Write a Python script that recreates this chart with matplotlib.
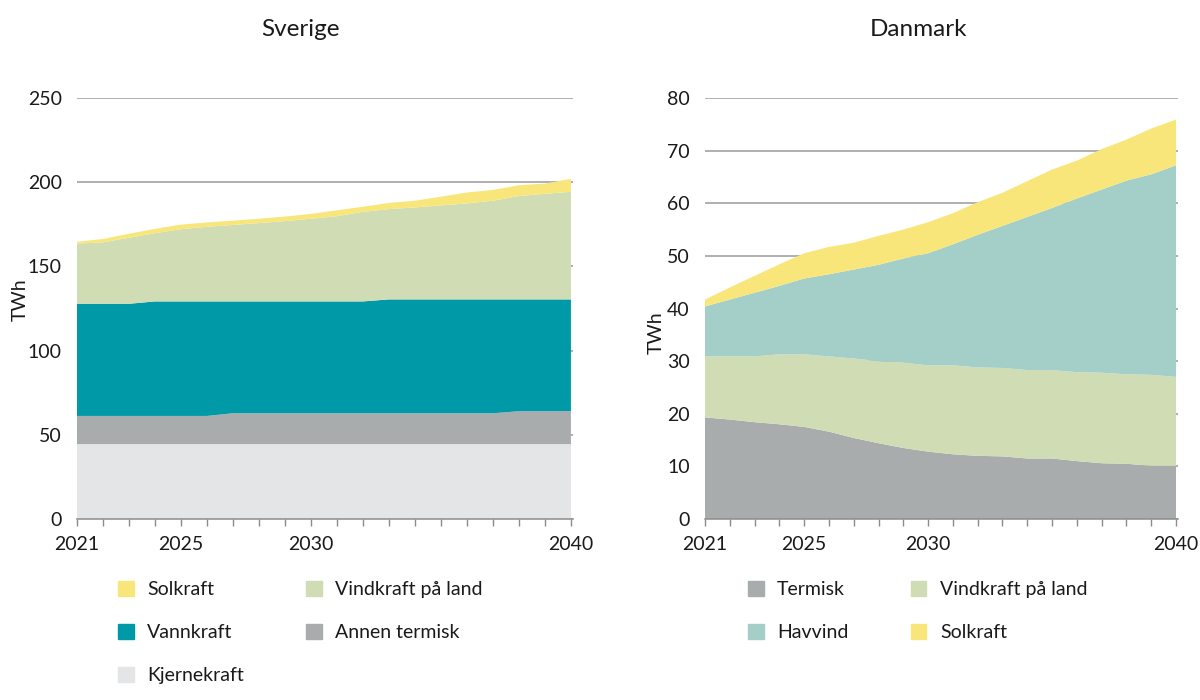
import matplotlib.pyplot as plt
from matplotlib.patches import Patch

plt.rcParams['font.family'] = ['Lato', 'DejaVu Sans']

years = list(range(2021, 2041))
label_years = [2021, 2025, 2030, 2040]

# Sverige (TWh)
se_kjernekraft = [44.5] * 20
se_annen_termisk = [16.7] * 6 + [18.3] * 11 + [19.5] * 3
se_vannkraft = [66.6, 66.6, 66.6, 68.0, 68.0, 68.0, 66.4, 66.4, 66.4, 66.4,
                66.4, 66.4, 67.6, 67.6, 67.6, 67.6, 67.6, 66.4, 66.4, 66.4]
se_vind_land = [35.7, 36.5, 39.2, 40.5, 42.9, 44.3, 45.4, 46.5, 47.7, 49.1,
                50.6, 53.2, 53.6, 54.6, 55.8, 57.0, 58.6, 61.4, 62.7, 63.9]
se_solkraft = [1.1, 2.0, 2.4, 2.6, 2.7, 2.6, 2.6, 2.6, 2.7, 2.9,
               3.5, 3.0, 3.7, 4.0, 5.2, 6.5, 6.4, 6.4, 6.1, 7.7]

# Danmark (TWh)
dk_termisk = [19.3, 18.9, 18.4, 18.0, 17.5, 16.6, 15.4, 14.4, 13.5, 12.8,
              12.3, 12.0, 11.9, 11.5, 11.5, 11.0, 10.6, 10.5, 10.1, 10.1]
dk_vind_land = [11.6, 12.0, 12.5, 13.3, 13.8, 14.3, 15.1, 15.6, 16.2, 16.4,
                16.9, 16.8, 16.8, 16.8, 16.8, 16.9, 17.2, 17.0, 17.3, 16.9]
dk_havvind = [9.5, 10.8, 12.1, 13.0, 14.4, 15.6, 16.9, 18.3, 19.8, 21.3,
              23.0, 25.2, 27.0, 29.1, 30.8, 33.0, 34.8, 36.8, 38.1, 40.2]
dk_solkraft = [1.3, 2.3, 3.2, 4.1, 4.8, 5.2, 5.1, 5.5, 5.5, 5.9,
               5.9, 6.2, 6.3, 6.8, 7.3, 7.2, 7.7, 7.8, 8.7, 8.7]

# colours
c_sol = '#f9e67b'
c_vind = '#cfdcb4'
c_vann = '#0099a8'
c_termisk = '#a9acac'
c_kjerne = '#e4e5e7'
c_hav = '#a4cfc9'
grid_col = '#9a9a9a'
text_col = '#1a1a1a'

fig = plt.figure(figsize=(12, 7), dpi=100)
ax1 = fig.add_axes([77 / 1200, 181 / 700, 496 / 1200, 421 / 700])
ax2 = fig.add_axes([705 / 1200, 181 / 700, 473 / 1200, 421 / 700])


def style(ax, ymax, step):
    ax.set_xlim(2021, 2040.08)
    ax.set_ylim(0, ymax)
    ax.set_yticks(range(0, ymax + 1, step))
    ax.set_xticks(years)
    ax.set_xticklabels([str(y) if y in label_years else '' for y in years])
    ax.grid(axis='y', color=grid_col, linewidth=1.1)
    ax.set_axisbelow(True)
    for s in ['top', 'right', 'left']:
        ax.spines[s].set_visible(False)
    ax.spines['bottom'].set_color('#8c8c8c')
    ax.spines['bottom'].set_linewidth(1.1)
    ax.spines['bottom'].set_zorder(5)
    ax.tick_params(axis='y', length=0, pad=11, labelsize=14, labelcolor=text_col)
    ax.tick_params(axis='x', length=5, width=1, color='#8c8c8c', pad=7,
                   labelsize=14, labelcolor=text_col)


ax1.stackplot(years, se_kjernekraft, se_annen_termisk, se_vannkraft, se_vind_land, se_solkraft,
              colors=[c_kjerne, c_termisk, c_vann, c_vind, c_sol], linewidth=0, zorder=2)
style(ax1, 250, 50)

ax2.stackplot(years, dk_termisk, dk_vind_land, dk_havvind, dk_solkraft,
              colors=[c_termisk, c_vind, c_hav, c_sol], linewidth=0, zorder=2)
style(ax2, 80, 10)

# titles and axis labels
fig.text(300 / 1200, 1 - 29 / 700, 'Sverige', ha='center', va='center', fontsize=17.5, color=text_col)
fig.text(919 / 1200, 1 - 29 / 700, 'Danmark', ha='center', va='center', fontsize=17.5, color=text_col)
fig.text(20 / 1200, 1 - 300 / 700, 'TWh', rotation=90, ha='center', va='center', fontsize=14, color=text_col)
fig.text(656 / 1200, 1 - 333 / 700, 'TWh', rotation=90, ha='center', va='center', fontsize=14, color=text_col)

# legends (column-wise order so rows read like the original)
se_handles = [Patch(color=c_sol, label='Solkraft'),
              Patch(color=c_vann, label='Vannkraft'),
              Patch(color=c_kjerne, label='Kjernekraft'),
              Patch(color=c_vind, label='Vindkraft på land'),
              Patch(color=c_termisk, label='Annen termisk')]
dk_handles = [Patch(color=c_termisk, label='Termisk'),
              Patch(color=c_hav, label='Havvind'),
              Patch(color=c_vind, label='Vindkraft på land'),
              Patch(color=c_sol, label='Solkraft')]

leg_kw = dict(ncol=2, frameon=False, fontsize=14, handlelength=0.8, handleheight=0.8,
              handletextpad=0.7, labelspacing=1.33, columnspacing=3.2, borderpad=0,
              borderaxespad=0, loc='upper left', labelcolor=text_col)
fig.legend(handles=se_handles, bbox_to_anchor=(118 / 1200, 1 - 581 / 700), **leg_kw)
fig.legend(handles=dk_handles, bbox_to_anchor=(748 / 1200, 1 - 581 / 700), **leg_kw)

fig.savefig('out.png', dpi=100)
